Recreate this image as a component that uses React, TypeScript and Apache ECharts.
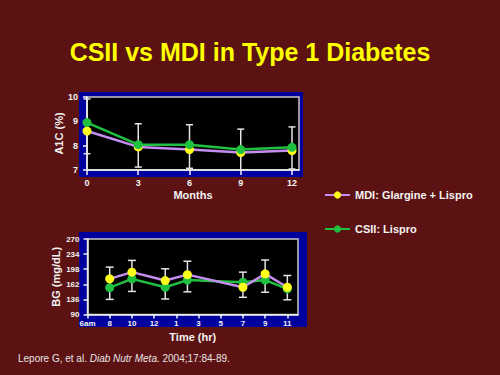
import React, { useEffect, useRef } from "react";
import * as echarts from "echarts";

// ---- Data ----
const seriesNames = ["MDI: Glargine + Lispro", "CSII: Lispro"];

const months = [0, 3, 6, 9, 12];
const a1cMDI = [8.6, 7.95, 7.84, 7.72, 7.8];
const a1cCSII = [8.95, 8.04, 8.04, 7.84, 7.93];
const a1cLow = [7.67, 7.12, 7.07, 7.0, 7.04];
const a1cHigh = [9.92, 8.9, 8.86, 8.68, 8.77];

// positions on the evenly spaced time axis (index into timeLabels)
const timePos = [1, 2, 3.5, 4.5, 7, 8, 9];
const bgMDI = [175, 191, 171, 185, 155, 187, 155];
const bgCSII = [154, 175, 155, 172, 167, 172, 151];
const bgLow = [126, 145, 127, 144, 131, 143, 125];
const bgHigh = [203, 219, 199, 217, 191, 220, 183];
const timeLabels = ["6am", "8", "10", "12", "1", "3", "5", "7", "9", "11"];
const bgTickLabels = ["90", "136", "162", "198", "234", "270"];

const FONT = "'Liberation Sans', Arial, Helvetica, sans-serif";
const BG = "#5c1212";
const PANEL = "#00009e";
const YELLOW = "#ffff1e";
const PURPLE = "#c48ef0";
const GREEN = "#20c040";
const WHITE = "#f2f2f2";

function errRender(halfW: number) {
  return (params: any, api: any) => {
    const x = api.value(0);
    const lo = api.value(1);
    const hi = api.value(2);
    const a = api.coord([x, hi]);
    const b = api.coord([x, lo]);
    const st = { stroke: "#e4e4e4", lineWidth: 1.5 };
    return {
      type: "group",
      children: [
        { type: "line", shape: { x1: a[0], y1: a[1], x2: b[0], y2: b[1] }, style: st },
        { type: "line", shape: { x1: a[0] - halfW, y1: a[1], x2: a[0] + halfW, y2: a[1] }, style: st },
        { type: "line", shape: { x1: b[0] - halfW, y1: b[1], x2: b[0] + halfW, y2: b[1] }, style: st },
      ],
    };
  };
}

export default function App() {
  const ref = useRef<HTMLDivElement>(null);
  useEffect(() => {
    if (!ref.current) return;
    const chart = echarts.init(ref.current, undefined, { renderer: "svg" });

    const axisLabelBase = { color: WHITE, fontWeight: "bold", fontFamily: FONT };
    const nameStyle = { color: WHITE, fontWeight: "bold", fontFamily: FONT, fontSize: 11 };

    const option: any = {
      animation: false,
      backgroundColor: BG,
      title: {
        text: "CSII vs MDI in Type 1 Diabetes",
        left: "center",
        top: 39,
        padding: 0,
        textStyle: {
          color: "#ffff00",
          fontSize: 25,
          fontWeight: "bold",
          fontFamily: FONT,
          textShadowColor: "#1a0000",
          textShadowOffsetX: 2,
          textShadowOffsetY: 2,
          textShadowBlur: 0,
        },
      },
      legend: {
        data: seriesNames,
        orient: "vertical",
        left: 324,
        top: 189.5,
        padding: 0,
        itemWidth: 25,
        itemHeight: 9,
        itemGap: 23,
        textStyle: { color: WHITE, fontWeight: "bold", fontSize: 11, fontFamily: FONT },
        inactiveColor: "#888",
      },
      graphic: [
        { type: "rect", z: -10, shape: { x: 79, y: 92, width: 224, height: 85 }, style: { fill: PANEL } },
        { type: "rect", z: -10, shape: { x: 79, y: 232, width: 228, height: 95 }, style: { fill: PANEL } },
        {
          type: "text",
          x: 18,
          y: 358,
          style: {
            text: "{a|Lepore G, et al. }{b|Diab Nutr Meta.}{a| 2004;17:84-89.}",
            verticalAlign: "middle",
            rich: {
              a: { fill: "#e6e6e6", fontSize: 10, fontFamily: FONT },
              b: { fill: "#e6e6e6", fontSize: 10, fontFamily: FONT, fontStyle: "italic" },
            },
          },
        },
      ],
      grid: [
        {
          left: 87,
          top: 97,
          width: 212,
          height: 73,
          show: true,
          backgroundColor: "#000000",
          borderColor: "#c8c8c8",
          borderWidth: 1.5,
        },
        {
          left: 87.5,
          top: 239,
          width: 210.5,
          height: 75.5,
          show: true,
          backgroundColor: "#000000",
          borderColor: "#c8c8c8",
          borderWidth: 1.5,
        },
      ],
      xAxis: [
        {
          gridIndex: 0,
          type: "value",
          min: 0,
          max: 12.41,
          name: "Months",
          nameLocation: "middle",
          nameGap: 19,
          nameTextStyle: nameStyle,
          axisLine: { show: true, lineStyle: { color: WHITE, width: 1.5 } },
          axisTick: { show: true, length: 5, lineStyle: { color: WHITE, width: 1.5 }, customValues: months },
          axisLabel: { ...axisLabelBase, fontSize: 9, margin: 8, customValues: months },
          splitLine: { show: false },
        },
        {
          gridIndex: 1,
          type: "value",
          min: 0,
          max: 9.48,
          name: "Time (hr)",
          nameLocation: "middle",
          nameGap: 17,
          nameTextStyle: nameStyle,
          axisLine: { show: true, lineStyle: { color: WHITE, width: 1.5 } },
          axisTick: {
            show: true,
            length: 4,
            lineStyle: { color: WHITE, width: 1.5 },
            customValues: timeLabels.map((_, i) => i),
          },
          axisLabel: {
            ...axisLabelBase,
            fontSize: 8,
            margin: 5,
            customValues: timeLabels.map((_, i) => i),
            formatter: (v: number) => timeLabels[Math.round(v)] ?? "",
          },
          splitLine: { show: false },
        },
      ],
      yAxis: [
        {
          gridIndex: 0,
          type: "value",
          min: 7,
          max: 10,
          interval: 1,
          name: "A1C (%)",
          nameLocation: "middle",
          nameGap: 22,
          nameRotate: 90,
          nameTextStyle: nameStyle,
          axisLine: { show: true, lineStyle: { color: WHITE, width: 1.5 } },
          axisTick: { show: true, length: 4, lineStyle: { color: WHITE, width: 1.5 } },
          axisLabel: { ...axisLabelBase, fontSize: 9, margin: 9 },
          splitLine: { show: false },
        },
        {
          gridIndex: 1,
          type: "value",
          min: 90,
          max: 270,
          interval: 36,
          name: "BG (mg/dL)",
          nameLocation: "middle",
          nameGap: 26,
          nameRotate: 90,
          nameTextStyle: nameStyle,
          axisLine: { show: true, lineStyle: { color: WHITE, width: 1.5 } },
          axisTick: { show: true, length: 4, lineStyle: { color: WHITE, width: 1.5 } },
          axisLabel: {
            ...axisLabelBase,
            fontSize: 8,
            margin: 8,
            formatter: (v: number) => bgTickLabels[Math.round((v - 90) / 36)] ?? "",
          },
          splitLine: { show: false },
        },
      ],
      series: [
        {
          type: "custom",
          xAxisIndex: 0,
          yAxisIndex: 0,
          renderItem: errRender(3.5),
          encode: { x: 0, y: [1, 2] },
          data: months.map((m, i) => [m, a1cLow[i], a1cHigh[i]]),
          z: 1,
          silent: true,
        },
        {
          type: "custom",
          xAxisIndex: 1,
          yAxisIndex: 1,
          renderItem: errRender(4),
          encode: { x: 0, y: [1, 2] },
          data: timePos.map((t, i) => [t, bgLow[i], bgHigh[i]]),
          z: 1,
          silent: true,
        },
        {
          name: seriesNames[0],
          type: "line",
          xAxisIndex: 0,
          yAxisIndex: 0,
          data: months.map((m, i) => [m, a1cMDI[i]]),
          symbol: "circle",
          symbolSize: 9,
          lineStyle: { color: PURPLE, width: 2.5 },
          itemStyle: { color: YELLOW, borderWidth: 0 },
          z: 2,
        },
        {
          name: seriesNames[1],
          type: "line",
          xAxisIndex: 0,
          yAxisIndex: 0,
          data: months.map((m, i) => [m, a1cCSII[i]]),
          symbol: "circle",
          symbolSize: 9,
          lineStyle: { color: GREEN, width: 2.5 },
          itemStyle: { color: GREEN, borderWidth: 0 },
          z: 3,
        },
        {
          name: seriesNames[1],
          type: "line",
          xAxisIndex: 1,
          yAxisIndex: 1,
          data: timePos.map((t, i) => [t, bgCSII[i]]),
          symbol: "circle",
          symbolSize: 9,
          lineStyle: { color: GREEN, width: 2.5 },
          itemStyle: { color: GREEN, borderWidth: 0 },
          z: 2,
        },
        {
          name: seriesNames[0],
          type: "line",
          xAxisIndex: 1,
          yAxisIndex: 1,
          data: timePos.map((t, i) => [t, bgMDI[i]]),
          symbol: "circle",
          symbolSize: 9,
          lineStyle: { color: PURPLE, width: 2.5 },
          itemStyle: { color: YELLOW, borderWidth: 0 },
          z: 3,
        },
      ],
    };
    chart.setOption(option);
    return () => chart.dispose();
  }, []);

  return (
    <div
      ref={ref}
      style={{ position: "fixed", left: 0, top: 0, width: 500, height: 375 }}
    />
  );
}
